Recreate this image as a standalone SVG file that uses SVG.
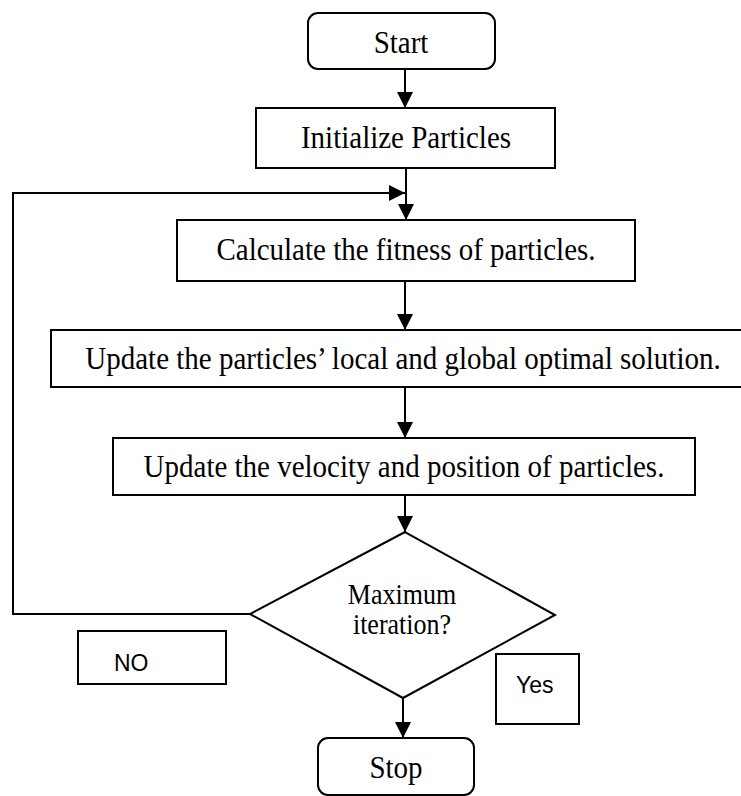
<svg xmlns="http://www.w3.org/2000/svg" width="741" height="796" viewBox="0 0 741 796">
<defs>
<style>
.box{fill:#fff;stroke:#000;stroke-width:2}
.ln{fill:none;stroke:#000;stroke-width:2}
.t{font-family:"Liberation Serif","Times New Roman",serif;font-size:29px;fill:#000;text-anchor:middle}
.d{font-family:"Liberation Serif","Times New Roman",serif;font-size:26px;fill:#000;text-anchor:middle}
.s{font-family:"Liberation Sans",Arial,sans-serif;font-size:23px;fill:#000}
</style>
<marker id="ah" markerUnits="userSpaceOnUse" markerWidth="16" markerHeight="16" viewBox="0 0 14 14" refX="14" refY="7" orient="auto">
<path d="M0,0 L14,7 L0,14 Z" fill="#000"/>
</marker>
</defs>
<rect width="741" height="796" fill="#fff"/>
<g id="connectors">
<line class="ln" x1="405" y1="69" x2="405" y2="108" marker-end="url(#ah)"/>
<line class="ln" x1="406" y1="168" x2="406" y2="220" marker-end="url(#ah)"/>
<path class="ln" d="M250,614 H13 V193 H405" marker-end="url(#ah)"/>
<line class="ln" x1="405" y1="281" x2="405" y2="330" marker-end="url(#ah)"/>
<line class="ln" x1="405" y1="387" x2="405" y2="438" marker-end="url(#ah)"/>
<line class="ln" x1="405" y1="495" x2="405" y2="532" marker-end="url(#ah)"/>
<line class="ln" x1="403" y1="698" x2="403" y2="738" marker-end="url(#ah)"/>
</g>
<g id="start">
<rect class="box" x="308" y="13" width="187" height="56" rx="10"/>
<text class="t" transform="translate(401,53) scale(1,1.1)">Start</text>
</g>
<g id="init">
<rect class="box" x="256" y="108" width="299" height="60"/>
<text class="t" transform="translate(406,148) scale(1,1.1)">Initialize Particles</text>
</g>
<g id="fitness">
<rect class="box" x="177" y="220" width="458" height="61"/>
<text class="t" transform="translate(406,260) scale(1,1.1)">Calculate the fitness of particles.</text>
</g>
<g id="update-best">
<rect class="box" x="51" y="330" width="700" height="57"/>
<text class="t" transform="translate(403,369) scale(1,1.1)">Update the particles’ local and global optimal solution.</text>
</g>
<g id="update-velocity">
<rect class="box" x="113" y="438" width="582" height="57"/>
<text class="t" transform="translate(404,477) scale(1,1.1)">Update the velocity and position of particles.</text>
</g>
<g id="decision">
<polygon class="box" points="405,532 555,615 403,698 250,614"/>
<text class="d" transform="translate(402,604) scale(1,1.1)">Maximum</text>
<text class="d" transform="translate(402,634) scale(1,1.1)">iteration?</text>
</g>
<g id="no-label">
<rect class="box" x="78" y="631" width="148" height="53"/>
<text class="s" transform="translate(114,671) scale(1,1.08)">NO</text>
</g>
<g id="yes-label">
<rect class="box" x="496" y="654" width="83" height="70"/>
<text class="s" transform="translate(516,693) scale(1,1.08)">Yes</text>
</g>
<g id="stop">
<rect class="box" x="318" y="738" width="156" height="57" rx="10"/>
<text class="t" transform="translate(396,778) scale(1,1.1)">Stop</text>
</g>
</svg>
